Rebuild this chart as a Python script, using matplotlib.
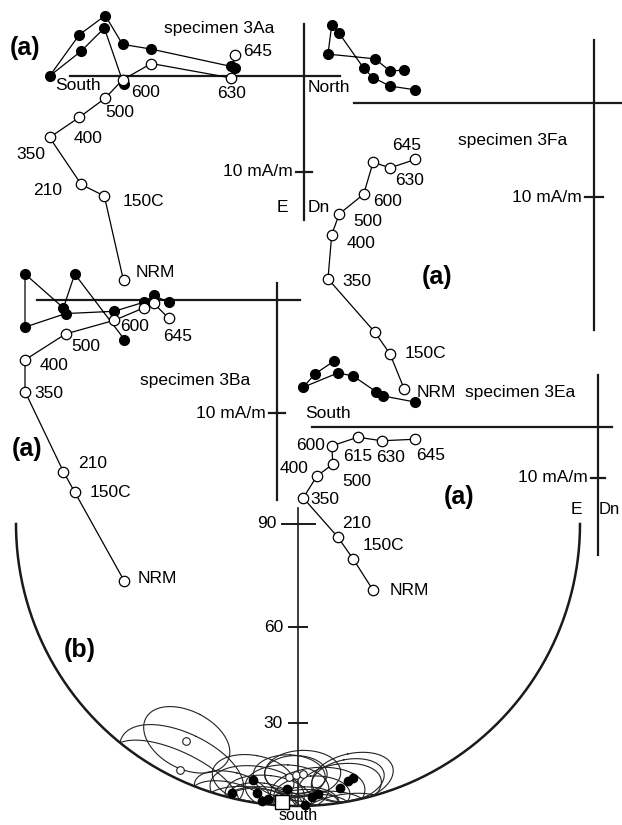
import numpy as np
import matplotlib
matplotlib.use("Agg")
import matplotlib.pyplot as plt

plt.rcParams['font.family'] = ['Liberation Sans', 'DejaVu Sans']

# ---------------- data ----------------
steps = ['NRM', '150C', '210', '350', '400', '500', '600', '615', '630', '645']

# specimen 3Aa  (mA/m) : N component shared, E (horizontal proj.), Dn (vertical proj.)
a_N = [-18.8, -20.8, -23.2, -26.5, -23.4, -20.7, -18.9, -15.9, -7.6, -7.2]
a_E = [0.8, -5.0, -2.6, 0.0, -4.3, -6.3, -3.3, -2.8, -1.0, -0.8]
a_Dn = [21.3, 12.5, 11.3, 6.4, 4.3, 2.3, 0.4, -1.3, 0.2, -2.2]

# specimen 3Fa
f_N = [-20.2, -21.7, -23.3, -28.3, -27.9, -27.1, -24.5, -23.5, -21.7, -19.0]
f_E = [-3.5, -3.4, -4.7, -5.2, -8.3, -7.4, -3.7, -2.7, -1.8, -1.4]
f_Dn = [30.4, 26.7, 24.4, 18.7, 14.0, 11.8, 9.7, 6.3, 6.9, 6.0]

# specimen 3Ba
b_N = [-13.5, -17.9, -18.9, -22.3, -22.3, -18.7, -14.4, -11.8, -10.9, -9.6]
b_E = [3.5, -2.3, 0.7, -2.3, 2.4, 1.2, 1.0, 0.2, -0.4, 0.2]
b_Dn = [24.9, 17.0, 15.2, 8.1, 5.3, 3.0, 1.8, 0.7, 0.3, 1.6]

# specimen 3Ea (horizontal projection read separately)
e_hN = [-51.8, -55.5, -57.8, -51.0, -48.0, -43.5, -42.2, -35.9]
e_hE = [-12.9, -10.4, -7.8, -10.6, -10.0, -6.9, -6.1, -4.9]
e_N = [-44.1, -48.0, -51.0, -57.8, -55.1, -52.0, -52.2, -47.1, -42.4, -35.9]
e_Dn = [32.0, 25.9, 21.6, 13.9, 9.6, 7.3, 3.7, 2.0, 2.7, 2.4]

# stereonet (b): site/specimen directions (dec, inc, a95)
fill_dec = [190.0, 193.8, 188.7, 187.4, 186.2, 182.4, 177.1, 175.8, 178.6, 171.0, 169.0, 167.8]
fill_inc = [8.7, 2.0, 4.0, 1.1, 2.2, 6.6, 3.5, 4.5, 0.5, 5.8, 7.9, 8.7]
fill_a95 = [9.0, 8.0, 10.0, 7.0, 9.0, 9.0, 8.0, 10.0, 7.0, 9.0, 8.0, 9.0]
open_dec = [182.0, 180.5, 178.9, 207.3, 205.6]
open_inc = [11.2, 12.0, 12.3, 14.5, 3.6]
open_a95 = [8.0, 7.0, 8.5, 10.5, 14.0]
ref_dec, ref_inc = 183.3, 1.4
net_ticks = [90, 60, 30]

# ---------------- layout ----------------
fig = plt.figure(figsize=(6.22, 8.25), dpi=100)
ax = fig.add_axes([0, 0, 1, 1])
ax.set_xlim(0, 622)
ax.set_ylim(825, 0)
ax.axis('off')

FS = 12.5
AXC = '#1a1a1a'


def zijderveld(origin, scale, hx, hy, vx, vy, xext, yext, tick_half,
               labels, label_off):
    ox, oy = origin
    # axes
    ax.plot([xext[0], xext[1]], [oy, oy], color=AXC, lw=1.6, zorder=1)
    ax.plot([ox, ox], [yext[0], yext[1]], color=AXC, lw=1.6, zorder=1)
    ty = oy + 10 * scale
    ax.plot([ox - tick_half, ox + tick_half], [ty, ty], color=AXC, lw=1.6, zorder=1)
    ax.text(ox - tick_half - 3, ty, '10 mA/m', fontsize=FS, ha='right', va='center')
    hpx = ox + scale * np.asarray(hx)
    hpy = oy + scale * np.asarray(hy)
    vpx = ox + scale * np.asarray(vx)
    vpy = oy + scale * np.asarray(vy)
    ax.plot(hpx, hpy, '-', color='k', lw=0.9, zorder=2)
    ax.plot(hpx, hpy, 'o', mfc='k', mec='k', ms=7, zorder=3)
    ax.plot(vpx, vpy, '-', color='k', lw=0.9, zorder=2)
    ax.plot(vpx, vpy, 'o', mfc='white', mec='k', mew=0.9, ms=7.5, zorder=3)
    for s, (dx, dy) in zip(labels, label_off):
        i = steps.index(s)
        ax.text(vpx[i] + dx, vpy[i] + dy, s, fontsize=FS, ha='left', va='center')


# 3Aa
zijderveld((304, 76), 9.6, a_N, a_E, a_N, a_Dn, (70, 340), (24, 220), 8,
           ['645', '630', '600', '500', '400', '350', '210', '150C', 'NRM'],
           [(8, -3), (-14, 16), (9, 13), (0, 14), (-6, 21), (-33, 17), (-48, 6), (18, 6), (12, -8)])
ax.text(164, 29, 'specimen 3Aa', fontsize=FS, ha='left', va='center')
ax.text(55, 86, 'South', fontsize=FS, ha='left', va='center')
ax.text(308, 87, 'North', fontsize=FS, ha='left', va='center')
ax.text(288, 207, 'E', fontsize=FS, ha='right', va='center')
ax.text(308, 207, 'Dn', fontsize=FS, ha='left', va='center')
ax.text(10, 48, '(a)', fontsize=18, fontweight='bold', ha='left', va='center')

# 3Fa
zijderveld((594, 103), 9.4, f_N, f_E, f_N, f_Dn, (354, 622), (40, 330), 9,
           ['645', '630', '600', '500', '400', '350', '150C', 'NRM'],
           [(-23, -14), (5, 13), (9, 7), (14, 8), (15, 9), (14, 3), (15, 0), (13, 4)])
ax.text(458, 141, 'specimen 3Fa', fontsize=FS, ha='left', va='center')
ax.text(422, 277, '(a)', fontsize=18, fontweight='bold', ha='left', va='center')

# 3Ba
zijderveld((277, 300), 11.3, b_N, b_E, b_N, b_Dn, (37, 300), (283, 500), 8,
           ['600', '645', '500', '400', '350', '210', '150C', 'NRM'],
           [(6, 6), (-5, 18), (6, 13), (15, 6), (9, 2), (15, -8), (15, 0), (13, -3)])
ax.text(140, 380, 'specimen 3Ba', fontsize=FS, ha='left', va='center')
ax.text(12, 449, '(a)', fontsize=18, fontweight='bold', ha='left', va='center')

# 3Ea
zijderveld((598, 427), 5.1, e_hN, e_hE, e_N, e_Dn, (312, 612), (375, 555), 7,
           ['600', '615', '630', '645', '400', '500', '350', '210', '150C', 'NRM'],
           [(-36, 0), (-15, 19), (-6, 17), (1, 16), (-37, -7), (9, 17), (7, 2), (4, -14), (9, -14), (17, 0)])
ax.text(465, 393, 'specimen 3Ea', fontsize=FS, ha='left', va='center')
ax.text(305, 414, 'South', fontsize=FS, ha='left', va='center')
ax.text(582, 510, 'E', fontsize=FS, ha='right', va='center')
ax.text(599, 510, 'Dn', fontsize=12, ha='left', va='center')
ax.text(444, 497, '(a)', fontsize=18, fontweight='bold', ha='left', va='center')

# ---------------- stereonet (b) ----------------
cx, cy, R = 298, 524, 282


def proj(dec, inc):
    dec = np.radians(np.asarray(dec, float))
    inc = np.abs(np.asarray(inc, float))
    r = R * np.sqrt(2) * np.sin(np.radians(90 - inc) / 2)
    return cx + r * np.sin(dec), cy - r * np.cos(dec)


def cone(dec, inc, a95, n=240):
    D, I = np.radians(dec), np.radians(inc)
    u = np.array([np.cos(I) * np.cos(D), np.cos(I) * np.sin(D), np.sin(I)])
    v = np.array([-np.sin(I) * np.cos(D), -np.sin(I) * np.sin(D), np.cos(I)])
    w = np.cross(u, v)
    t = np.linspace(0, 2 * np.pi, n)
    a = np.radians(a95)
    p = (np.cos(a) * u[None, :] +
         np.sin(a) * (np.cos(t)[:, None] * v[None, :] + np.sin(t)[:, None] * w[None, :]))
    dd = np.degrees(np.arctan2(p[:, 1], p[:, 0]))
    ii = np.degrees(np.arcsin(np.clip(p[:, 2], -1, 1)))
    return proj(dd, ii)


# primitive (lower half)
th = np.linspace(90, 270, 400)
px, py = proj(th, np.zeros_like(th))
ax.plot(px, py, color=AXC, lw=1.8, zorder=2)

# vertical axis with inclination ticks
bx, by = proj(180, 0)
ax.plot([cx, cx], [cy - 16, by], color=AXC, lw=1.2, zorder=2)
for t in net_ticks:
    tx, ty = proj(180, t)
    hl, hr = (16, 17) if t == 90 else (9, 9)
    ax.plot([tx - hl, tx + hr], [ty, ty], color=AXC, lw=1.4, zorder=2)
    ax.text(tx - hl - 6, ty, str(t), fontsize=FS, ha='right', va='center')

# confidence circles
for d, i, a in zip(fill_dec + open_dec, fill_inc + open_inc, fill_a95 + open_a95):
    ex, ey = cone(d, i, a)
    ax.plot(ex, ey, color='#222222', lw=0.8, zorder=3)

fx, fy = proj(fill_dec, fill_inc)
ax.plot(fx, fy, 'o', mfc='k', mec='k', ms=6, ls='none', zorder=4)
ox_, oy_ = proj(open_dec, open_inc)
ax.plot(ox_, oy_, 'o', mfc='white', mec='#222222', mew=0.8, ms=5.5, ls='none', zorder=4)
sx, sy = proj(ref_dec, ref_inc)
ax.plot([sx], [sy], 's', mfc='white', mec='k', mew=1.0, ms=10, zorder=5)
ax.text(cx, 816, 'south', fontsize=11.5, ha='center', va='center')
ax.text(64, 650, '(b)', fontsize=18, fontweight='bold', ha='left', va='center')

fig.savefig('out.png', dpi=100)
